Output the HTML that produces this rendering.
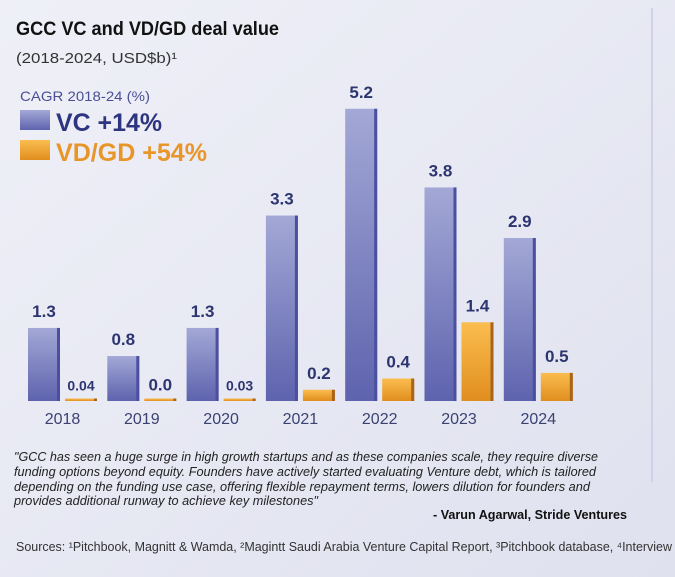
<!DOCTYPE html>
<html><head><meta charset="utf-8"><style>
html,body{margin:0;padding:0;width:675px;height:577px;overflow:hidden}
svg{display:block}
text{font-family:"Liberation Sans",sans-serif}
</style></head><body>
<svg width="675" height="577" viewBox="0 0 675 577">
<defs>
<linearGradient id="bg" x1="0" y1="0" x2="1" y2="1"><stop offset="0" stop-color="#eff0f7"/><stop offset="1" stop-color="#dfe1ef"/></linearGradient>
<linearGradient id="vc" x1="0" y1="0" x2="0" y2="1"><stop offset="0" stop-color="#a3a8d6"/><stop offset="1" stop-color="#5e63ae"/></linearGradient>
<linearGradient id="vd" x1="0" y1="0" x2="0" y2="1"><stop offset="0" stop-color="#fbbd4f"/><stop offset="1" stop-color="#e08e1e"/></linearGradient>
</defs>
<rect width="675" height="577" fill="url(#bg)"/>
<line x1="652" y1="8" x2="652" y2="482" stroke="#c9cce2" stroke-width="1.5"/>
<text x="16" y="35" font-size="19" font-weight="bold" fill="#111" textLength="263" lengthAdjust="spacingAndGlyphs">GCC VC and VD/GD deal value</text>
<text x="16" y="63" font-size="15" fill="#333" textLength="161" lengthAdjust="spacingAndGlyphs">(2018-2024, USD$b)¹</text>
<text x="20" y="101" font-size="14" fill="#4a4f94" textLength="130" lengthAdjust="spacingAndGlyphs">CAGR 2018-24 (%)</text>
<rect x="20" y="110" width="30" height="20" fill="url(#vc)"/>
<text x="56" y="131" font-size="25" font-weight="bold" fill="#2e3580" textLength="106" lengthAdjust="spacingAndGlyphs">VC  +14%</text>
<rect x="20" y="140" width="30" height="20" fill="url(#vd)"/>
<text x="56" y="161" font-size="25" font-weight="bold" fill="#e8962a" textLength="151" lengthAdjust="spacingAndGlyphs">VD/GD +54%</text>
<g id="bars"></g>
<text x="14" y="461" font-size="12.5" font-style="italic" fill="#222" textLength="584" lengthAdjust="spacingAndGlyphs">"GCC has seen a huge surge in high growth startups and as these companies scale, they require diverse</text>
<text x="14" y="476" font-size="12.5" font-style="italic" fill="#222" textLength="582" lengthAdjust="spacingAndGlyphs">funding options beyond equity. Founders have actively started evaluating Venture debt, which is tailored</text>
<text x="14" y="491" font-size="12.5" font-style="italic" fill="#222" textLength="576" lengthAdjust="spacingAndGlyphs">depending on the funding use case, offering flexible repayment terms, lowers dilution for founders and</text>
<text x="14" y="505" font-size="12.5" font-style="italic" fill="#222" textLength="304" lengthAdjust="spacingAndGlyphs">provides additional runway to achieve key milestones"</text>
<text x="627" y="519" font-size="12.5" font-weight="bold" fill="#111" text-anchor="end" textLength="194" lengthAdjust="spacingAndGlyphs">- Varun Agarwal, Stride Ventures</text>
<text x="16" y="551" font-size="12.5" fill="#333" textLength="656" lengthAdjust="spacingAndGlyphs">Sources: ¹Pitchbook, Magnitt &amp; Wamda, ²Magintt Saudi Arabia Venture Capital Report, ³Pitchbook database, ⁴Interview</text>
</svg>
<script>
const years = ["2018","2019","2020","2021","2022","2023","2024"];
const vcValues = [1.3, 0.8, 1.3, 3.3, 5.2, 3.8, 2.9];
const vdValues = [0.04, 0.0, 0.03, 0.2, 0.4, 1.4, 0.5];
const vcLabels = ["1.3","0.8","1.3","3.3","5.2","3.8","2.9"];
const vdLabels = ["0.04","0.0","0.03","0.2","0.4","1.4","0.5"];
const NS = "http://www.w3.org/2000/svg";
const baseY = 401, scale = 56.2, x0 = 28, step = 79.3, bw = 32;
const xPos = i => x0 + i * step;
const yPos = v => baseY - v * scale;
const g = document.getElementById("bars");
function mk(tag, attrs){const e=document.createElementNS(NS,tag);for(const k in attrs)e.setAttribute(k,attrs[k]);g.appendChild(e);return e;}
years.forEach((yr, i) => {
  const xv = xPos(i), xo = xv + bw + 5;
  const hv = Math.max(vcValues[i] * scale, 0);
  let r = mk("rect", {x:xv, y:yPos(vcValues[i]), width:bw, height:hv, fill:"url(#vc)"});
  
  
  let e = mk("rect", {x:xv+bw-3, y:yPos(vcValues[i]), width:3, height:hv, fill:"#4a4fa0"});
  
  
  const ho = Math.max(vdValues[i] * scale, 2.5);
  let o = mk("rect", {x:xo, y:baseY - ho, width:bw, height:ho, fill:"url(#vd)"});
  
  
  let oe = mk("rect", {x:xo+bw-3, y:baseY - ho, width:3, height:ho, fill:"#a8641c"});
  
  
  let t1 = mk("text", {x:xv+bw/2, y:yPos(vcValues[i]) - 11, "font-size":17, "font-weight":"bold", fill:"#2d3570", "text-anchor":"middle"});
  t1.textContent = vcLabels[i];
  
  
  let t2 = mk("text", {x:xo+bw/2, y:baseY - ho - (vdValues[i] < 0.1 ? 8 : 11), "font-size":vdLabels[i].length>3?14:17, "font-weight":"bold", fill:"#2d3570", "text-anchor":"middle"});
  t2.textContent = vdLabels[i];
  
  
  let yl = mk("text", {x:xv+bw+2.5, y:424, "font-size":16, fill:"#3a4272", "text-anchor":"middle"});
  yl.textContent = yr;
  
  
});
</script>
</body></html>
